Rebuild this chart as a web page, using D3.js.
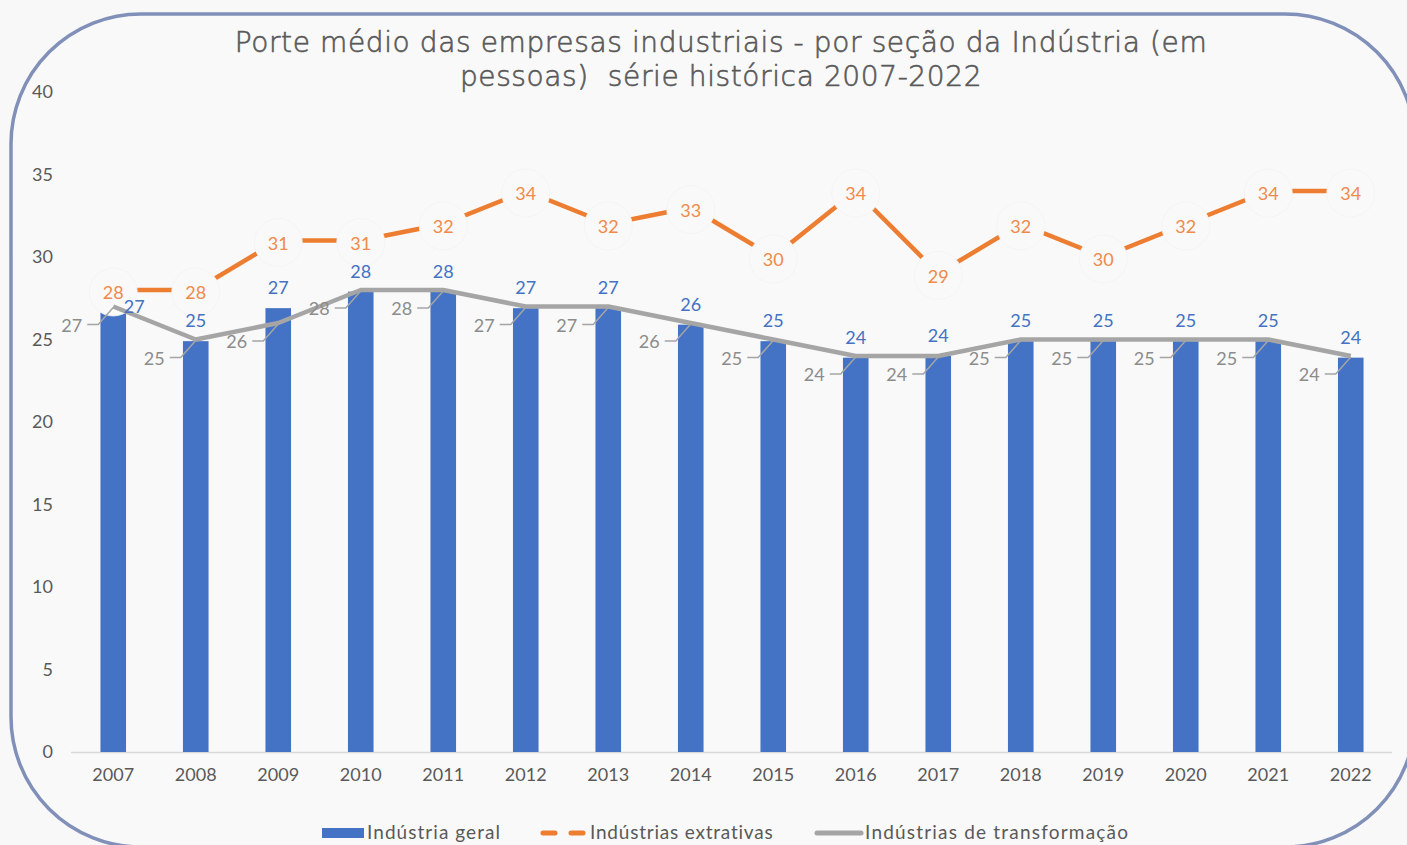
<!DOCTYPE html>
<html><head><meta charset="utf-8">
<script src="https://cdn.jsdelivr.net/npm/d3@7"></script>
<style>
html,body{margin:0;padding:0;background:#f8f8f8;}
svg{display:block;font-family:Lato, "Noto Sans", sans-serif;}
</style></head>
<body><svg id="c" width="1407" height="845"></svg>
<script>
const years = ["2007","2008","2009","2010","2011","2012","2013","2014","2015","2016","2017","2018","2019","2020","2021","2022"];
const geral = [26.7,24.9,26.9,27.9,27.9,26.9,26.9,25.9,24.9,23.9,24.0,24.9,24.9,24.9,24.9,23.9];
const extrativas = [28,28,31,31,32,34,32,33,30,34,29,32,30,32,34,34];
const transformacao = [27,25,26,28,28,27,27,26,25,24,24,25,25,25,25,24];
const yTicks = [0,5,10,15,20,25,30,35,40];
const titleLines = ["Porte médio das empresas industriais - por seção da Indústria (em","pessoas)  série histórica 2007-2022"];
const seriesNames = ["Indústria geral","Indústrias extrativas","Indústrias de transformação"];

const C_BLUE="#4472c4", C_ORANGE="#ed7d31", C_GRAY="#a5a5a5";
const svg = d3.select("#c");

svg.append("rect").attr("x",0).attr("y",0).attr("width",1407).attr("height",845).attr("fill","#f8f8f8");
svg.append("rect").attr("x",11).attr("y",14).attr("width",1404).attr("height",833)
  .attr("rx",130).attr("ry",130).attr("fill","#f9f9f9").attr("stroke","#8190b8").attr("stroke-width",3.5);

const x = d3.scalePoint().domain(years).range([72,1392]).padding(0.5);
const step = x.step();
const y = d3.scaleLinear().domain([0,40]).range([752,92]);
const barW = step*0.31;

function fitSpacing(sel, target){
  const n = sel.text().length;
  const w = sel.node().getComputedTextLength();
  const ls = (target - w)/Math.max(1,n-1);
  sel.style("letter-spacing", ls+"px");
  return ls;
}

// title
const tg = svg.append("g");
const titleStyle = s => s.attr("text-anchor","middle").attr("fill","#595959")
  .attr("stroke","#595959").attr("stroke-width",0.6)
  .style("font-family","'DejaVu Sans', Lato, sans-serif")
  .style("font-size","28px").style("font-weight","200");
const t1 = tg.append("text").attr("x",721).attr("y",52).call(titleStyle).text(titleLines[0]);
const ls = fitSpacing(t1, 972);
tg.append("text").attr("x",721).attr("y",86).call(titleStyle)
  .style("letter-spacing",ls+"px").attr("xml:space","preserve").text(titleLines[1]);

// y axis labels
svg.append("g").selectAll("text").data(yTicks).join("text")
  .attr("x",53).attr("y",d=>y(d)+6).attr("text-anchor","end")
  .attr("fill","#595959").style("font-size","18px").text(d=>d);

// x axis
svg.append("line").attr("x1",71).attr("x2",1392).attr("y1",y(0)+0.5).attr("y2",y(0)+0.5)
  .attr("stroke","#d9d9d9").attr("stroke-width",1.5);
svg.append("g").selectAll("text").data(years).join("text")
  .attr("x",d=>x(d)).attr("y",781).attr("text-anchor","middle")
  .attr("fill","#595959").style("font-size","18px").text(d=>d);

// bars
svg.append("g").selectAll("rect").data(geral).join("rect")
  .attr("x",(d,i)=>x(years[i])-barW/2).attr("width",barW)
  .attr("y",d=>y(d)).attr("height",d=>y(0)-y(d)).attr("fill",C_BLUE);

// orange line
const lineO = d3.line().x((d,i)=>x(years[i])).y(d=>y(d));
svg.append("path").datum(extrativas).attr("d",lineO).attr("fill","none")
  .attr("stroke",C_ORANGE).attr("stroke-width",4.5);
const og = svg.append("g");
og.selectAll("circle").data(extrativas).join("circle")
  .attr("cx",(d,i)=>x(years[i])).attr("cy",d=>y(d)+2).attr("r",24)
  .attr("fill","#f9f9f9").attr("stroke","#f3f3f3").attr("stroke-width",0.8);
og.selectAll("text").data(extrativas).join("text")
  .attr("x",(d,i)=>x(years[i])).attr("y",d=>y(d)+9).attr("text-anchor","middle")
  .attr("fill","#f08a4b").style("font-size","18px").text(d=>Math.round(d));

// gray line
const lineG = d3.line().x((d,i)=>x(years[i])).y(d=>y(d));
svg.append("path").datum(transformacao).attr("d",lineG).attr("fill","none")
  .attr("stroke",C_GRAY).attr("stroke-width",4.5).attr("stroke-linejoin","round");
const gg = svg.append("g");
transformacao.forEach((d,i)=>{
  const px=x(years[i]), py=y(d);
  const tr = px-31, ty = py+18;
  gg.append("path").attr("d",`M${tr+5},${ty} H${tr+16} L${px},${py+1}`)
    .attr("fill","none").attr("stroke",C_GRAY).attr("stroke-width",1.5);
  gg.append("text").attr("x",tr).attr("y",ty+7).attr("text-anchor","end")
    .attr("fill","#8c8c8c").style("font-size","18px").text(Math.round(d));
});

// blue labels
const bg = svg.append("g");
geral.forEach((d,i)=>{
  let lx = x(years[i]), ly = y(d)-14;
  if (Math.abs((y(d)-20) - y(extrativas[i])) < 22) { lx += 21; ly += 16; }
  bg.append("text").attr("x",lx).attr("y",ly).attr("text-anchor","middle")
    .attr("fill",C_BLUE).style("font-size","18px").text(Math.round(d));
});

// legend
const lg = svg.append("g");
const lgy = 833;
lg.append("rect").attr("x",322).attr("y",lgy-5).attr("width",42).attr("height",10).attr("fill",C_BLUE);
const l1 = lg.append("text").attr("x",367).attr("y",lgy+6).attr("fill","#595959").style("font-size","19px").text(seriesNames[0]);
fitSpacing(l1, 133);
lg.append("line").attr("x1",543).attr("x2",585).attr("y1",lgy).attr("y2",lgy)
  .attr("stroke",C_ORANGE).attr("stroke-width",5).attr("stroke-dasharray","12,16").attr("stroke-linecap","round");
const l2 = lg.append("text").attr("x",590).attr("y",lgy+6).attr("fill","#595959").style("font-size","19px").text(seriesNames[1]);
fitSpacing(l2, 183);
lg.append("line").attr("x1",817).attr("x2",861).attr("y1",lgy).attr("y2",lgy)
  .attr("stroke",C_GRAY).attr("stroke-width",5).attr("stroke-linecap","round");
const l3 = lg.append("text").attr("x",865).attr("y",lgy+6).attr("fill","#595959").style("font-size","19px").text(seriesNames[2]);
fitSpacing(l3, 263);
</script></body></html>
